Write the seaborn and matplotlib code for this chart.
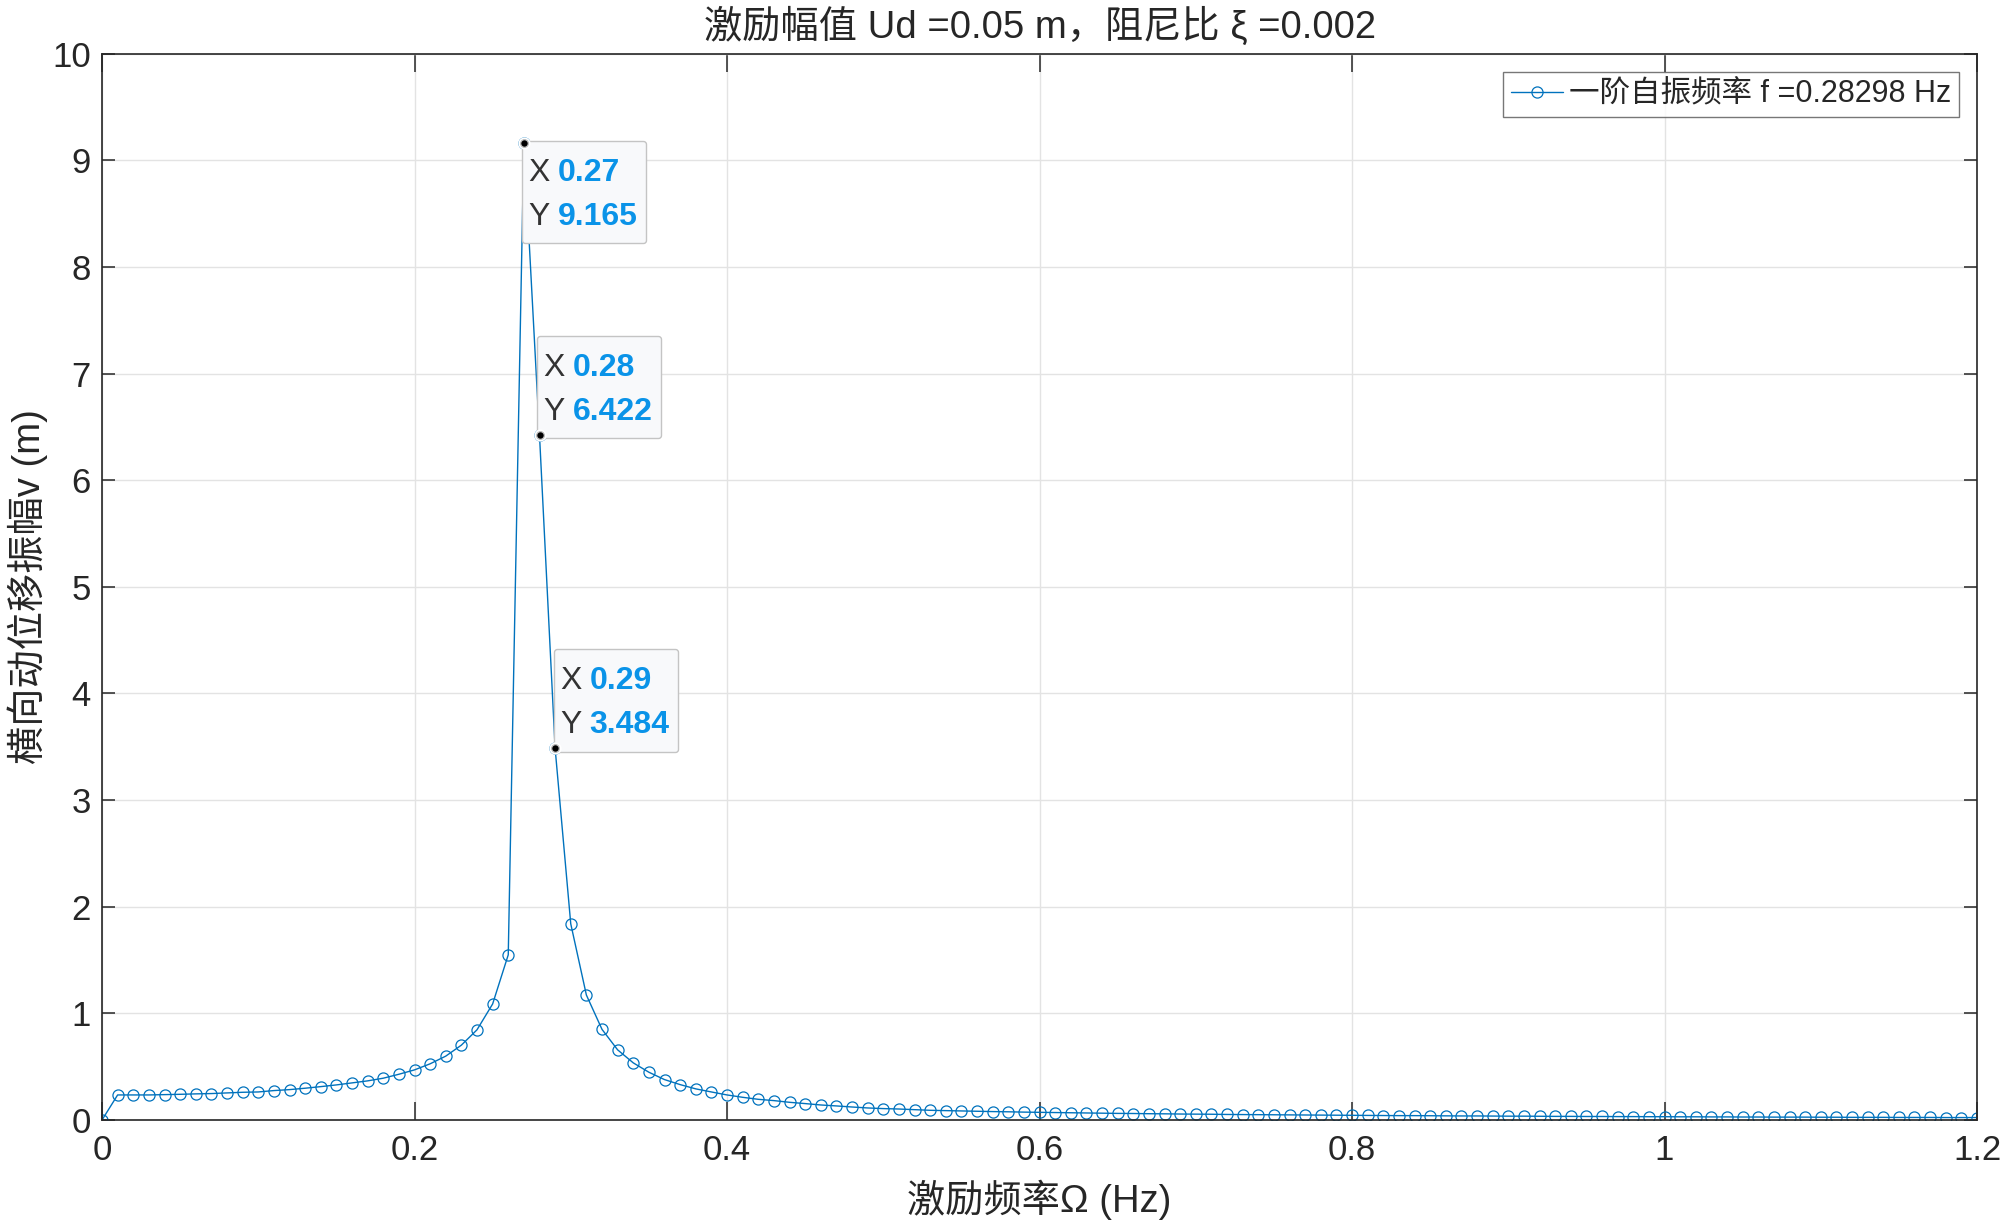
import numpy as np
import pandas as pd
import matplotlib
matplotlib.use("Agg")
import matplotlib.pyplot as plt
import seaborn as sns
from matplotlib.offsetbox import TextArea, HPacker, VPacker, AnnotationBbox, DrawingArea

# ---------------- data ----------------
freq = [round(0.01 * i, 2) for i in range(121)]
amp = [
    0.000, 0.235, 0.235, 0.235, 0.238, 0.241, 0.245, 0.248, 0.254, 0.260,
    0.263, 0.276, 0.285, 0.298, 0.313, 0.329, 0.348, 0.367, 0.392, 0.429,
    0.470, 0.527, 0.599, 0.702, 0.846, 1.088, 1.549, 9.165, 6.422, 3.484,
    1.840, 1.172, 0.850, 0.658, 0.536, 0.448, 0.379, 0.332, 0.292, 0.263,
    0.235, 0.213, 0.194, 0.182, 0.166, 0.154, 0.141, 0.132, 0.122, 0.113,
    0.107, 0.103, 0.097, 0.091, 0.088, 0.085, 0.082, 0.079, 0.077, 0.074,
    0.072, 0.070, 0.068, 0.066, 0.064, 0.062, 0.061, 0.059, 0.058, 0.056,
    0.055, 0.054, 0.052, 0.051, 0.050, 0.049, 0.048, 0.047, 0.046, 0.045,
    0.044, 0.043, 0.042, 0.041, 0.041, 0.040, 0.039, 0.038, 0.038, 0.037,
    0.036, 0.036, 0.035, 0.034, 0.034, 0.033, 0.033, 0.032, 0.032, 0.031,
    0.031, 0.030, 0.030, 0.029, 0.029, 0.028, 0.028, 0.027, 0.027, 0.027,
    0.026, 0.026, 0.025, 0.025, 0.025, 0.024, 0.024, 0.024, 0.023, 0.023,
    0.023,
]
tip_x = [0.27, 0.28, 0.29]
tip_y = [9.165, 6.422, 3.484]
x_ticks = [0, 0.2, 0.4, 0.6, 0.8, 1.0, 1.2]
x_ticklabels = ["0", "0.2", "0.4", "0.6", "0.8", "1", "1.2"]
y_ticks = list(range(0, 11))

title = "激励幅值 Ud =0.05 m，阻尼比 ξ =0.002"
xlabel = "激励频率Ω (Hz)"
ylabel = "横向动位移振幅v (m)"
legend_label = "一阶自振频率 f =0.28298 Hz"

# ---------------- style ----------------
sns.set_theme(style="white")
plt.rcParams["font.family"] = ["Liberation Sans", "Noto Sans CJK SC", "DejaVu Sans"]
plt.rcParams["axes.unicode_minus"] = False

line_color = "#0072BD"
axis_color = "#262626"

df = pd.DataFrame({"freq": freq, "amp": amp})

fig = plt.figure(figsize=(20, 12.27), dpi=100)
ax = fig.add_axes([0.051, 0.0872, 0.9375, 0.8691])

sns.lineplot(data=df, x="freq", y="amp", ax=ax, color=line_color,
             linewidth=1.0, marker="o", markersize=8,
             markerfacecolor="none", markeredgecolor=line_color,
             markeredgewidth=0.9, label=legend_label)

ax.set_xlim(0, 1.2)
ax.set_ylim(0, 10)
ax.set_xticks(x_ticks)
ax.set_xticklabels(x_ticklabels)
ax.set_yticks(y_ticks)
ax.grid(True, color="#e3e3e3", linewidth=1.0)
ax.set_axisbelow(True)

for s in ax.spines.values():
    s.set_color(axis_color)
    s.set_linewidth(1.2)
    s.set_visible(True)

ax.tick_params(axis="x", direction="in", length=13, width=1.1, color=axis_color,
               top=True, bottom=True, labelsize=25, labelcolor=axis_color, pad=10)
ax.tick_params(axis="y", direction="in", length=9.5, width=1.1, color=axis_color,
               left=True, right=True, labelsize=25, labelcolor=axis_color, pad=8)

ax.set_title(title, fontsize=27.5, color=axis_color, pad=11)
ax.set_xlabel(xlabel, fontsize=27.5, color=axis_color, labelpad=9)
ax.set_ylabel(ylabel, fontsize=27.5, color=axis_color)
ax.yaxis.set_label_coords(-0.029, 0.5)

leg = ax.legend(loc="upper right", fontsize=22, frameon=True, fancybox=False,
                borderpad=0.25, handlelength=1.7, handletextpad=0.2,
                borderaxespad=0.6)
leg.get_frame().set_edgecolor("#555555")
leg.get_frame().set_linewidth(1.0)
for t in leg.get_texts():
    t.set_color(axis_color)

# ---------------- data tips ----------------
value_color = "#0a93e8"
tip_layout = [((2.0, -2.0), (0, 1)), ((1.5, 1.0), (0, 0)), ((2.5, 1.0), (0, 0))]
for (tx, ty), (offset, align) in zip(zip(tip_x, tip_y), tip_layout):
    ytxt = f"{ty:.3f}"
    xtxt = f"{tx:.2f}"
    row1 = HPacker(children=[
        TextArea("X", textprops=dict(fontsize=23, color="#333333")),
        TextArea(xtxt, textprops=dict(fontsize=23, color=value_color, fontweight="bold")),
    ], align="baseline", pad=0, sep=6)
    row2 = HPacker(children=[
        TextArea("Y", textprops=dict(fontsize=23, color="#333333")),
        TextArea(ytxt, textprops=dict(fontsize=23, color=value_color, fontweight="bold")),
    ], align="baseline", pad=0, sep=6)
    inner = VPacker(children=[row1, row2], align="left", pad=0, sep=10)
    padded_v = VPacker(children=[DrawingArea(1, 9), inner, DrawingArea(1, 5)],
                       align="left", pad=0, sep=0)
    box = HPacker(children=[DrawingArea(1, 1), padded_v, DrawingArea(3, 1)],
                  align="center", pad=0, sep=0)
    ab = AnnotationBbox(box, (tx, ty), xybox=offset, xycoords="data",
                        boxcoords="offset points", box_alignment=align,
                        frameon=True, pad=0.3,
                        bboxprops=dict(boxstyle="round,pad=0.3,rounding_size=0.2",
                                       facecolor="#f8f9fb", edgecolor="#c4c4c4",
                                       linewidth=1.0))
    ab.set_zorder(6)
    ax.add_artist(ab)

ax.plot(tip_x, tip_y, linestyle="none", marker="o", markersize=8.8,
        markerfacecolor="white", markeredgecolor="none", zorder=7)
ax.plot(tip_x, tip_y, linestyle="none", marker="o", markersize=5.5,
        markerfacecolor="black", markeredgecolor="#bdbdbd",
        markeredgewidth=0.9, zorder=8)

fig.savefig("out.png", dpi=100)
